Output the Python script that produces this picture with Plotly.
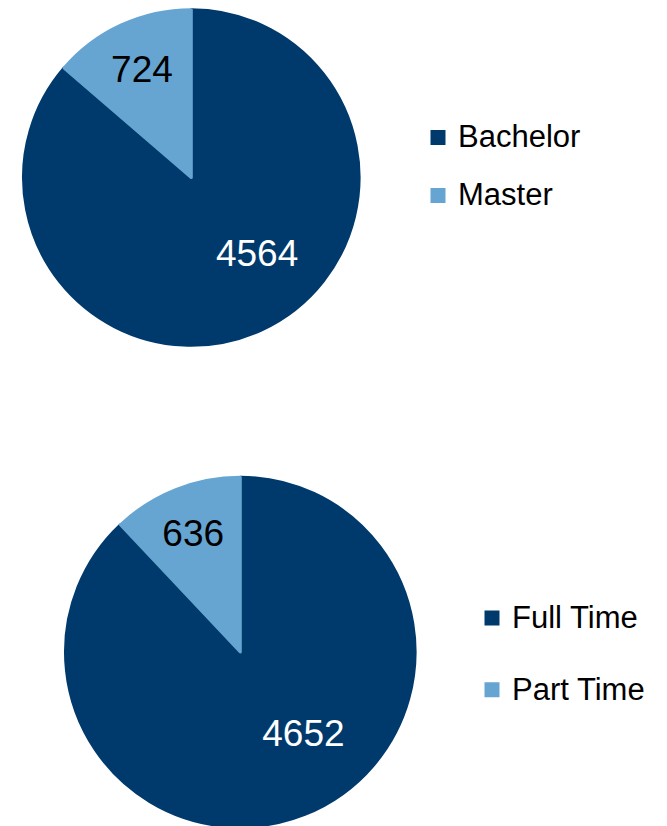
import plotly.graph_objects as go

# ---- data ----
degree_labels = ["Bachelor", "Master"]
degree_values = [4564, 724]
mode_labels = ["Full Time", "Part Time"]
mode_values = [4652, 636]

# ---- style ----
slice_colors = ["#003a6c", "#66a5d2"]
value_colors = ["white", "black"]
FONT = "Liberation Sans, Arial, sans-serif"
W, H = 667, 826
OFF = 8  # default page body margin
STROKE = 3
PAD = "\u00a0" * 6
value_templates = [PAD + "%{value}", "%{value}"]


def domain_px(cx, cy, r):
    cx, cy = cx - OFF, cy - OFF
    return dict(x=[(cx - r) / W, (cx + r) / W], y=[1 - (cy + r) / H, 1 - (cy - r) / H])


def legend_label(text, size, shift):
    return f"<span style='font-size:{size}px;baseline-shift:{shift}px'>{text}</span>"


fig = go.Figure()

fig.add_trace(go.Pie(
    labels=[legend_label(l, 31, 6.8) for l in degree_labels],
    values=degree_values,
    sort=False, direction="clockwise", rotation=0,
    marker=dict(colors=slice_colors, line=dict(color=slice_colors, width=STROKE)),
    texttemplate=value_templates, textposition="inside", insidetextorientation="horizontal",
    insidetextfont=dict(color=value_colors, size=37, family=FONT),
    domain=domain_px(191.3, 177.5, 169.3 - STROKE / 2),
    legend="legend", hoverinfo="label+value",
))

fig.add_trace(go.Pie(
    labels=[legend_label(l, 31, 11) for l in mode_labels],
    values=mode_values,
    sort=False, direction="clockwise", rotation=0,
    marker=dict(colors=slice_colors, line=dict(color=slice_colors, width=STROKE)),
    texttemplate=value_templates, textposition="inside", insidetextorientation="horizontal",
    insidetextfont=dict(color=value_colors, size=37, family=FONT),
    domain=domain_px(240.3, 652.0, 176.3 - STROKE / 2),
    legend="legend2", hoverinfo="label+value",
))

fig.update_layout(
    width=W, height=H,
    margin=dict(l=0, r=0, t=0, b=0),
    paper_bgcolor="white", plot_bgcolor="white",
    font=dict(family=FONT, color="black"),
    legend=dict(x=(418 - OFF) / W, xanchor="left", y=1 - (166.5 - OFF) / H, yanchor="middle",
                font=dict(size=42.3, color="black", family=FONT), bgcolor="rgba(0,0,0,0)"),
    legend2=dict(x=(472 - OFF) / W, xanchor="left", y=1 - (654 - OFF) / H, yanchor="middle",
                 font=dict(size=53, color="black", family=FONT), bgcolor="rgba(0,0,0,0)"),
)

fig.write_html("out.html")
